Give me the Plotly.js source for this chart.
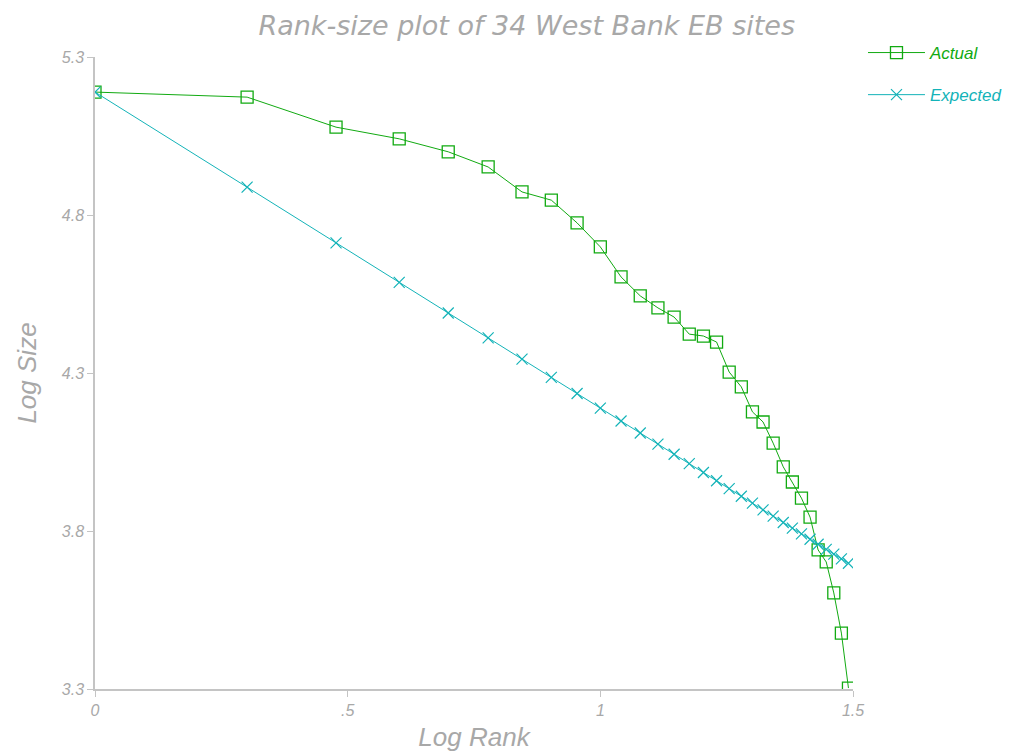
<!DOCTYPE html>
<html>
<head>
<meta charset="utf-8">
<script src="https://cdn.plot.ly/plotly-3.0.1.min.js"></script>
<style>html,body{margin:0;padding:0;background:#fff;}#chart{width:1011px;height:756px;}</style>
</head>
<body>
<div id="chart"></div>
<script>
const logRank = [0, 0.301, 0.477, 0.602, 0.699, 0.778, 0.845, 0.903, 0.954, 1.000,
  1.041, 1.079, 1.114, 1.146, 1.176, 1.204, 1.230, 1.255, 1.279, 1.301,
  1.322, 1.342, 1.362, 1.380, 1.398, 1.415, 1.431, 1.447, 1.462, 1.477, 1.491];
const actualLogSize = [5.189, 5.173, 5.078, 5.041, 5.000, 4.952, 4.873, 4.847, 4.775, 4.699,
  4.604, 4.544, 4.506, 4.477, 4.423, 4.417, 4.398, 4.303, 4.256, 4.177,
  4.145, 4.078, 4.003, 3.955, 3.904, 3.844, 3.740, 3.702, 3.604, 3.477, 3.303];
const expectedLogSize = [5.189, 4.888, 4.712, 4.587, 4.490, 4.411, 4.344, 4.286, 4.235, 4.189,
  4.148, 4.110, 4.075, 4.043, 4.013, 3.985, 3.959, 3.934, 3.910, 3.888,
  3.867, 3.847, 3.827, 3.809, 3.791, 3.774, 3.758, 3.742, 3.727, 3.712, 3.698];
const xTickVals = [0, 0.5, 1, 1.5];
const xTickText = ['0', '.5', '1', '1.5'];
const yTickVals = [3.3, 3.8, 4.3, 4.8, 5.3];
const yTickText = ['3.3', '3.8', '4.3', '4.8', '5.3'];

const green = '#11aa11';
const teal = '#13b3b8';
const gray = '#a8a8a8';
const fontFam = '"Liberation Sans", Arial, sans-serif';
const wideFam = '"DejaVu Sans", Verdana, sans-serif';

const traces = [
  {x: logRank, y: actualLogSize, name: 'Actual', type: 'scatter', mode: 'lines+markers',
   legendgroup: 'a',
   line: {color: green, width: 1},
   marker: {symbol: 'square-open', size: 12, color: green, line: {width: 1.3, color: green}}},
  {x: logRank, y: expectedLogSize, name: 'Expected', type: 'scatter', mode: 'lines+markers',
   legendgroup: 'b',
   line: {color: teal, width: 1},
   marker: {symbol: 'x-thin-open', size: 11, color: teal, line: {width: 1.2, color: teal}}}
];

const layout = {
  width: 1011, height: 756,
  margin: {l: 95, r: 158, t: 57, b: 67, autoexpand: false},
  paper_bgcolor: '#fff', plot_bgcolor: '#fff',
  font: {family: fontFam, color: gray},
  title: {text: '<i>Rank-size plot of 34 West Bank EB sites</i>', x: 0.521, xref: 'container', xanchor: 'center',
          y: 0.966, yanchor: 'middle',
          font: {family: wideFam, size: 27, color: gray}},
  xaxis: {range: [0, 1.5], tickvals: xTickVals, ticktext: xTickText,
          showgrid: false, zeroline: false, showline: true, linecolor: '#c4c4c4', linewidth: 1.5,
          ticks: 'outside', ticklen: 6, tickcolor: '#c4c4c4',
          tickfont: {family: fontFam, size: 16, color: gray, style: 'italic'},
          title: {text: '<i>Log Rank</i>', font: {family: fontFam, size: 26, color: gray}, standoff: 10}},
  yaxis: {range: [3.3, 5.3], tickvals: yTickVals, ticktext: yTickText,
          showgrid: false, zeroline: false, showline: true, linecolor: '#c4c4c4', linewidth: 1.5,
          ticks: 'outside', ticklen: 6, tickcolor: '#c4c4c4',
          tickfont: {family: fontFam, size: 16, color: gray, style: 'italic'},
          title: {text: '<i>Log Size</i>', font: {family: fontFam, size: 26, color: gray}, standoff: 18}},
  showlegend: true,
  legend: {x: 0.8536, xref: 'container', xanchor: 'left', y: 0.9537, yref: 'container', yanchor: 'top',
           bgcolor: 'rgba(0,0,0,0)',
           traceorder: 'grouped', tracegroupgap: 17, itemwidth: 57,
           font: {family: fontFam, size: 17, style: 'italic'}}
};

Plotly.newPlot('chart', traces, layout, {displayModeBar: false}).then(function(){
  const texts = document.querySelectorAll('.legendtext');
  if (texts[0]) texts[0].style.fill = green;
  if (texts[1]) texts[1].style.fill = teal;
});
</script>
</body>
</html>
